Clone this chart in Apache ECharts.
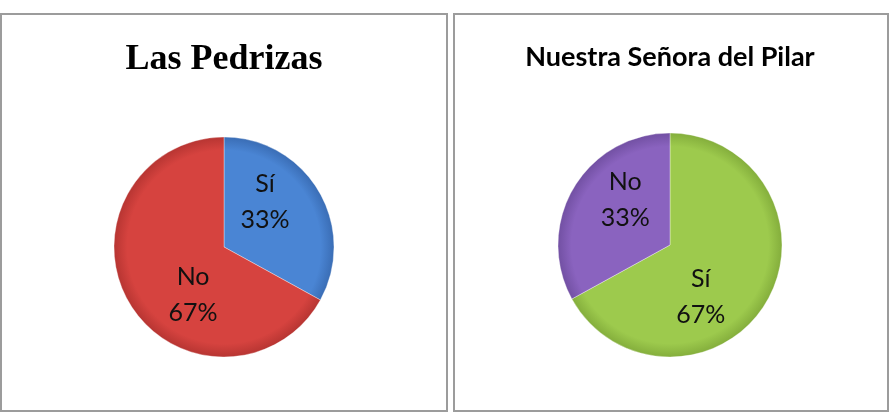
<!DOCTYPE html>
<html>
<head>
<meta charset="utf-8">
<script src="https://cdn.jsdelivr.net/npm/echarts@6/dist/echarts.min.js"></script>
<style>
html,body{margin:0;padding:0;background:#fff;}
#c{width:894px;height:414px;}
</style>
</head>
<body>
<div id="c"></div>
<script>
const titles = ['Las Pedrizas', 'Nuestra Señora del Pilar'];
const leftCategories = ['Sí', 'No'];
const leftValues = [33, 67];
const rightCategories = ['Sí', 'No'];
const rightValues = [67, 33];

const chart = echarts.init(document.getElementById('c'), null, {renderer: 'canvas'});

function shade(cx, cy, r, base, rim) {
  return {
    type: 'radial', x: cx, y: cy, r: r, global: true,
    colorStops: [
      {offset: 0, color: base},
      {offset: 0.88, color: base},
      {offset: 1, color: rim}
    ]
  };
}

const labelBase = {
  show: true,
  position: 'inside',
  formatter: '{b}\n{c}%',
  fontFamily: 'Lato, "Open Sans", sans-serif',
  fontSize: 25,
  lineHeight: 36,
  color: '#111'
};

const L = {cx: 224, cy: 247, r: 110};
const R = {cx: 670, cy: 245, r: 112};

const leftStyles = [
  {color: shade(L.cx, L.cy, L.r, '#4A85D4', '#3A6DB5'), offset: [-9, -16]},
  {color: shade(L.cx, L.cy, L.r, '#D6433F', '#B73532'), offset: [19, 18]}
];
const rightStyles = [
  {color: shade(R.cx, R.cy, R.r, '#9DCA4D', '#84AE3C'), offset: [-20, 22]},
  {color: shade(R.cx, R.cy, R.r, '#8A63BF', '#7250A3'), offset: [6, -15]}
];

function buildData(cats, vals, styles) {
  return cats.map((c, i) => ({
    name: c,
    value: vals[i],
    itemStyle: {color: styles[i].color},
    label: {offset: styles[i].offset}
  }));
}

chart.setOption({
  animation: false,
  graphic: [
    {type: 'rect', shape: {x: 1, y: 14, width: 446, height: 397},
     style: {fill: 'none', stroke: '#9c9c9c', lineWidth: 2}},
    {type: 'rect', shape: {x: 454, y: 14, width: 434, height: 397},
     style: {fill: 'none', stroke: '#9c9c9c', lineWidth: 2}}
  ],
  title: [
    {text: titles[0], left: 219, top: 37, textAlign: 'center',
     textStyle: {fontFamily: '"Liberation Serif", "Times New Roman", serif', fontWeight: 'bold', fontSize: 36, color: '#000'}},
    {text: titles[1], left: 665, top: 39, textAlign: 'center',
     textStyle: {fontFamily: 'Lato, "Open Sans", sans-serif', fontWeight: 'bold', fontSize: 27, color: '#000'}}
  ],
  series: [
    {
      type: 'pie', center: [L.cx, L.cy], radius: L.r, startAngle: 90, clockwise: true,
      label: labelBase, labelLine: {show: false},
      itemStyle: {borderColor: 'rgba(255,255,255,0.35)', borderWidth: 1},
      emphasis: {disabled: true},
      data: buildData(leftCategories, leftValues, leftStyles)
    },
    {
      type: 'pie', center: [R.cx, R.cy], radius: R.r, startAngle: 90, clockwise: true,
      label: labelBase, labelLine: {show: false},
      itemStyle: {borderColor: 'rgba(255,255,255,0.35)', borderWidth: 1},
      emphasis: {disabled: true},
      data: buildData(rightCategories, rightValues, rightStyles)
    }
  ]
});
</script>
</body>
</html>
